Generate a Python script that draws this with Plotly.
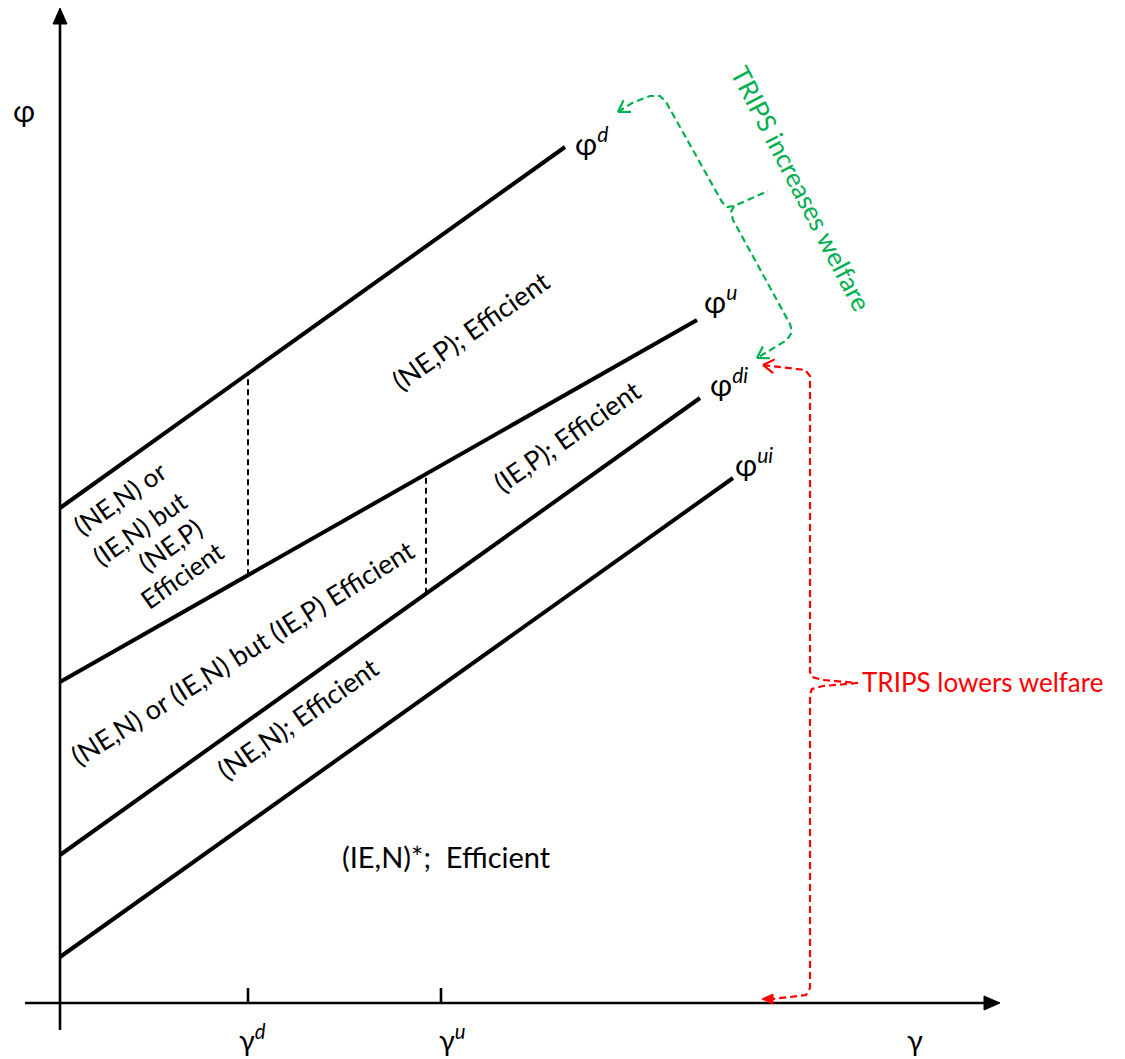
import math
import plotly.graph_objects as go

# ---------------- data (diagram units, origin at the axes crossing) ----------------
curve_names = ["d", "u", "di", "ui"]
curve_x0 = [0, 0, 0, 0]
curve_y0 = [495, 321, 148, 46]
curve_x1 = [505, 637, 640, 673]
curve_y1 = [856, 683, 605, 525]

# curve label anchors (left edge, vertical middle)
label_x = [513, 642, 648, 673]
label_y = [862, 704, 621, 541]

# thresholds on the gamma axis
tick_names = ["d", "u"]
tick_x = [188, 381]
tick_label_x = [192, 392]

# dashed separators: (x, upper curve index, lower curve index)
sep_x = [188, 366]
sep_upper = [0, 1]
sep_lower = [1, 2]

# region labels
region_text = [
    "(NE,P); Efficient",
    "(IE,P); Efficient",
    "(NE,N) or (IE,N) but (IE,P) Efficient",
    "(NE,N); Efficient",
    "(NE,N) or",
    "(IE,N) but",
    "(NE,P)",
    "Efficient",
    "(IE,N)*;&nbsp;&nbsp;Efficient",
]
region_x = [410, 506, 182, 237, 60, 80, 110, 122, 386]
region_y = [673, 567, 351, 285, 505, 475, 458, 428, 147]
region_angle = [-35, -35, -32, -35, -35, -35, -35, -35, 0]
region_size = [27, 27, 27, 27, 26, 26, 26, 26, 29]

# welfare braces
green_upper_x = [558, 572, 590, 600, 606, 662, 667, 674, 708]
green_upper_y = [891, 900, 907, 907, 901, 801, 796, 797, 812]
green_lower_x = [674, 671, 673, 730, 732, 727, 697]
green_lower_y = [797, 791, 783, 679, 671, 663, 645]
red_upper_x = [703, 730, 745, 750, 750, 752, 763, 798]
red_upper_y = [638, 635, 633, 627, 331, 326, 323, 320]
red_lower_x = [798, 763, 752, 750, 750, 746, 730, 712]
red_lower_y = [320, 317, 314, 309, 15, 8, 6, 4]
red_tip = (702, 4)
green_text = "TRIPS increases welfare"
green_text_pos = (741, 815)
green_text_angle = 62.5
red_text = "TRIPS lowers welfare"
red_text_pos = (800, 321)

# axes extents
x_axis = (-35, 940)
y_axis = (-27, 995)
axis_title_x = (855, -36)
axis_title_y = (-36, 893)

GREEN = "#00B050"
RED = "#FF0000"
FONT = "Lato, 'Noto Sans', sans-serif"

fig = go.Figure()


def seg(xs, ys, color="black", width=3.5, dash=None):
    fig.add_trace(go.Scatter(x=xs, y=ys, mode="lines",
                             line=dict(color=color, width=width, dash=dash),
                             hoverinfo="skip", showlegend=False))


def chevron(tip, prev, color, length=13, ang=32):
    dx, dy = prev[0] - tip[0], prev[1] - tip[1]
    base = math.atan2(dy, dx)
    xs, ys = [], []
    for s in (1, -1):
        a = base + s * math.radians(ang)
        xs += [tip[0] + length * math.cos(a), tip[0], None]
        ys += [tip[1] + length * math.sin(a), tip[1], None]
    seg(xs, ys, color=color, width=2.2)


# axes
seg([x_axis[0], x_axis[1] - 12], [0, 0], width=2.6)
seg([0, 0], [y_axis[0], y_axis[1] - 12], width=2.6)
fig.add_trace(go.Scatter(x=[x_axis[1], x_axis[1] - 16, x_axis[1] - 16, x_axis[1]],
                         y=[0, 7, -7, 0], fill="toself", mode="lines",
                         line=dict(color="black", width=1), fillcolor="black",
                         hoverinfo="skip", showlegend=False))
fig.add_trace(go.Scatter(x=[0, -7, 7, 0],
                         y=[y_axis[1], y_axis[1] - 16, y_axis[1] - 16, y_axis[1]],
                         fill="toself", mode="lines",
                         line=dict(color="black", width=1), fillcolor="black",
                         hoverinfo="skip", showlegend=False))

# ticks
for tx in tick_x:
    seg([tx, tx], [0, 15], width=2.6)

# threshold curves
for i in range(len(curve_names)):
    seg([curve_x0[i], curve_x1[i]], [curve_y0[i], curve_y1[i]], width=4)


def curve_y(i, x):
    t = (x - curve_x0[i]) / (curve_x1[i] - curve_x0[i])
    return curve_y0[i] + t * (curve_y1[i] - curve_y0[i])


# dashed separators
for sx, up, lo in zip(sep_x, sep_upper, sep_lower):
    seg([sx, sx], [curve_y(lo, sx), curve_y(up, sx)], width=2, dash="6px,4px")

# braces
seg(green_upper_x, green_upper_y, color=GREEN, width=2.2, dash="7px,4px")
seg(green_lower_x, green_lower_y, color=GREEN, width=2.2, dash="7px,4px")
chevron((green_upper_x[0], green_upper_y[0]), (green_upper_x[1], green_upper_y[1]), GREEN)
chevron((green_lower_x[-1], green_lower_y[-1]), (green_lower_x[-2], green_lower_y[-2]), GREEN)

seg(red_upper_x, red_upper_y, color=RED, width=2.2, dash="7px,4px")
seg(red_lower_x, red_lower_y, color=RED, width=2.2, dash="7px,4px")
chevron((red_upper_x[0], red_upper_y[0]), (red_upper_x[1], red_upper_y[1]), RED)
fig.add_trace(go.Scatter(x=[red_tip[0], red_tip[0] + 11, red_tip[0] + 11, red_tip[0]],
                         y=[red_tip[1], red_tip[1] + 5, red_tip[1] - 5, red_tip[1]],
                         fill="toself", mode="lines", line=dict(color=RED, width=1),
                         fillcolor=RED, hoverinfo="skip", showlegend=False))

ann = []
for i, nm in enumerate(curve_names):
    ann.append(dict(x=label_x[i], y=label_y[i], xanchor="left", yanchor="middle",
                    text=f"φ<sup><i>{nm}</i></sup>", showarrow=False,
                    font=dict(size=30, color="black", family=FONT)))
for i, nm in enumerate(tick_names):
    ann.append(dict(x=tick_label_x[i], y=-35, xanchor="center", yanchor="middle",
                    text=f"γ<sup><i>{nm}</i></sup>", showarrow=False,
                    font=dict(size=29, color="black", family=FONT)))
ann.append(dict(x=axis_title_x[0], y=axis_title_x[1], text="γ", showarrow=False,
                font=dict(size=29, color="black", family=FONT)))
ann.append(dict(x=axis_title_y[0], y=axis_title_y[1], text="φ", showarrow=False,
                font=dict(size=30, color="black", family=FONT)))
for t, x, y, a, s in zip(region_text, region_x, region_y, region_angle, region_size):
    ann.append(dict(x=x, y=y, text=t, textangle=a, showarrow=False,
                    font=dict(size=s, color="black", family=FONT)))
ann.append(dict(x=green_text_pos[0], y=green_text_pos[1], text=green_text,
                textangle=green_text_angle, showarrow=False,
                font=dict(size=26, color=GREEN, family=FONT)))
ann.append(dict(x=red_text_pos[0], y=red_text_pos[1], text=red_text, xanchor="left",
                yanchor="middle", showarrow=False,
                font=dict(size=26, color=RED, family=FONT)))

fig.update_layout(
    width=1125, height=1059,
    margin=dict(l=0, r=0, t=0, b=0),
    paper_bgcolor="white", plot_bgcolor="white",
    showlegend=False, hovermode=False,
    xaxis=dict(range=[-60, 1065], visible=False, fixedrange=True),
    yaxis=dict(range=[-56, 1003], visible=False, fixedrange=True),
    annotations=ann,
)

fig.write_html("out.html", config={"displayModeBar": False},
               post_script="document.body.style.margin='0';document.body.style.overflow='hidden';")
